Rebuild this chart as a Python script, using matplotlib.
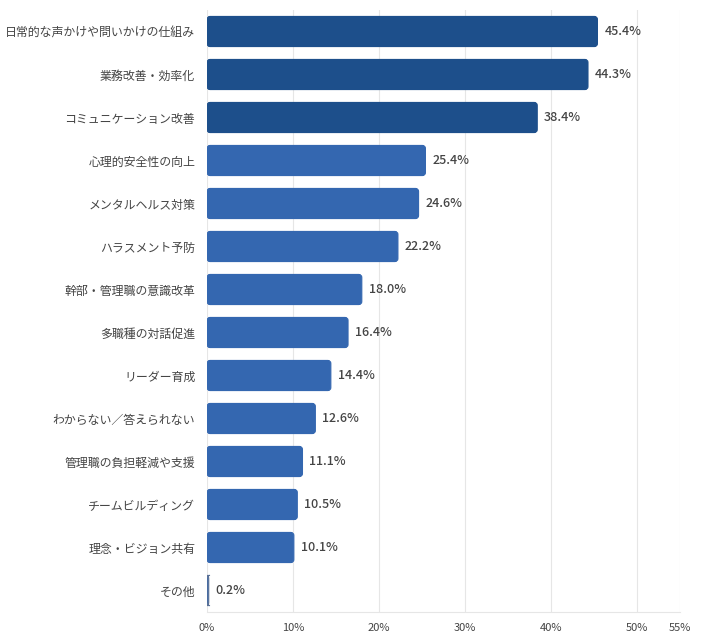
import matplotlib
matplotlib.use('Agg')
import matplotlib.pyplot as plt
from matplotlib.patches import FancyBboxPatch

plt.rcParams['font.family'] = ['Noto Sans CJK JP', 'DejaVu Sans']

categories = ['日常的な声かけや問いかけの仕組み', '業務改善・効率化', 'コミュニケーション改善',
              '心理的安全性の向上', 'メンタルヘルス対策', 'ハラスメント予防',
              '幹部・管理職の意識改革', '多職種の対話促進', 'リーダー育成',
              'わからない／答えられない', '管理職の負担軽減や支援', 'チームビルディング',
              '理念・ビジョン共有', 'その他']
values = [45.4, 44.3, 38.4, 25.4, 24.6, 22.2, 18.0, 16.4, 14.4, 12.6, 11.1, 10.5, 10.1, 0.2]
xticks = [0, 10, 20, 30, 40, 50, 55]

dark = '#1d4f8b'
light = '#3467b0'

fig = plt.figure(figsize=(7.2, 6.4), dpi=100)
ax = fig.add_axes([207 / 720, 28 / 640, 473 / 720, 602 / 640])

ypos = list(range(len(categories)))
colors = [dark if i < 3 else light for i in ypos]
bars = ax.barh(ypos, values, height=0.7, color=colors)

# rounded corners: swap each bar for a fancy box of the same size
for b, c in zip(bars, colors):
    b.set_visible(False)
    fb = FancyBboxPatch((b.get_x(), b.get_y()), b.get_width(), b.get_height(),
                        boxstyle='round,pad=0,rounding_size=0.35',
                        mutation_aspect=0.2, facecolor=c,
                        edgecolor='#5a7197' if b.get_width() < 1 else c,
                        linewidth=0.8, zorder=3)
    ax.add_patch(fb)

for y, v in zip(ypos, values):
    ax.annotate(f'{v:.1f}%', (v, y), xytext=(5, 0), textcoords='offset points',
                va='center', ha='left', fontsize=9, color='#444444', fontweight='medium')

ax.set_xlim(0, 55)
ax.set_ylim(len(categories) - 0.5, -0.5)
ax.set_yticks(ypos)
ax.set_yticklabels(categories, fontsize=8.6, color='#444444')
ax.set_xticks(xticks)
ax.set_xticklabels([f'{t}%' for t in xticks], fontsize=8, color='#444444')
ax.tick_params(axis='both', length=0)
ax.tick_params(axis='y', pad=8.5)
ax.tick_params(axis='x', pad=8)
ax.grid(axis='x', color='#e6e6e6', linewidth=0.8, zorder=0)
ax.set_axisbelow(True)
for s in ['top', 'right', 'left']:
    ax.spines[s].set_visible(False)
ax.spines['bottom'].set_color('#e6e6e6')

fig.savefig('out.png', dpi=100)
